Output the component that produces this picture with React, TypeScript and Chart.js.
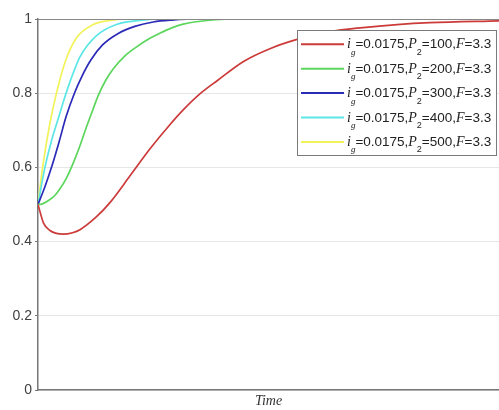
import React, { useEffect, useRef } from "react";
import { Chart, registerables } from "chart.js";

Chart.register(...registerables);

// ---- data ----
const P2Values = [100, 200, 300, 400, 500];
const seriesColors = ["#cc3a3a", "#5cd65c", "#2b2bb8", "#5ce6e6", "#f2f25a"];

const redTime = [0, 1.2, 2.6, 4, 5.5, 7.5, 9.1, 12.7, 15.6, 20, 24.3, 28.6, 31.5, 35.3, 39, 44.5, 50.3, 56.2, 63.3, 70.5, 77.9, 85, 100];
const redValues = [0.5, 0.45, 0.43, 0.422, 0.42, 0.424, 0.432, 0.467, 0.505, 0.578, 0.65, 0.715, 0.755, 0.8, 0.835, 0.885, 0.92, 0.945, 0.966, 0.977, 0.985, 0.99, 0.995];

const greenTime = [0, 0.8, 2.2, 3.7, 4.8, 6.2, 7.66, 9, 10.4, 11.8, 13.1, 14.7, 16.3, 18.8, 21.4, 24, 26.5, 29, 31.5, 36.7, 46, 100];
const greenValues = [0.5, 0.501, 0.51, 0.525, 0.543, 0.572, 0.612, 0.655, 0.705, 0.752, 0.795, 0.835, 0.865, 0.9, 0.925, 0.946, 0.962, 0.976, 0.986, 0.996, 1, 1];

const blueTime = [0, 1.5, 3, 4.6, 6.1, 7.9, 9.5, 11.5, 14, 17.4, 21, 25, 29, 35, 100];
const blueValues = [0.5, 0.548, 0.603, 0.67, 0.737, 0.8, 0.845, 0.89, 0.93, 0.961, 0.98, 0.992, 0.997, 1, 1];

const cyanTime = [0, 0.8, 1.5, 3, 4.6, 5.5, 6.5, 7.6, 9.1, 12.7, 17, 22, 28, 100];
const cyanValues = [0.5, 0.555, 0.6, 0.675, 0.74, 0.777, 0.815, 0.853, 0.898, 0.955, 0.985, 0.996, 1, 1];

const yellowTime = [0, 1, 2.6, 4.1, 5.9, 8.4, 12, 15.6, 20, 100];
const yellowValues = [0.5, 0.6, 0.72, 0.805, 0.885, 0.95, 0.985, 0.996, 1, 1];

const yTicks = [0, 0.2, 0.4, 0.6, 0.8, 1];
const xTitle = "Time";

const seriesTimes = [redTime, greenTime, blueTime, cyanTime, yellowTime];
const seriesValues = [redValues, greenValues, blueValues, cyanValues, yellowValues];

const SANS = "'Liberation Sans', Arial, sans-serif";
const SERIF = "'Liberation Serif', 'Times New Roman', serif";

const legendPlugin = {
  id: "matlabLegend",
  afterDatasetsDraw(chart: any) {
    const ctx = chart.ctx as CanvasRenderingContext2D;
    const x0 = 297, y0 = 30, w = 199, h = 125;
    ctx.save();
    ctx.fillStyle = "#ffffff";
    ctx.fillRect(x0, y0, w, h);
    ctx.strokeStyle = "#7a7a7a";
    ctx.lineWidth = 1;
    ctx.strokeRect(x0 + 0.5, y0 + 0.5, w, h);
    chart.data.datasets.forEach((ds: any, i: number) => {
      const y = 44.3 + i * 24.4;
      ctx.strokeStyle = ds.borderColor;
      ctx.lineWidth = 2;
      ctx.beginPath();
      ctx.moveTo(301, y);
      ctx.lineTo(344, y);
      ctx.stroke();
      const p = P2Values[i];
      const segs = [
        { t: "i", f: `italic 14px ${SERIF}`, dy: 0 },
        { t: "g", f: `italic 9px ${SERIF}`, dy: 6.5 },
        { t: "=0.0175,", f: `13.5px ${SANS}`, dy: 0 },
        { t: "P", f: `italic 14px ${SERIF}`, dy: 0 },
        { t: "2", f: `9px ${SANS}`, dy: 6.5 },
        { t: `=${p},`, f: `13.5px ${SANS}`, dy: 0 },
        { t: "F", f: `italic 14px ${SERIF}`, dy: 0 },
        { t: "=3.3", f: `13.5px ${SANS}`, dy: 0 },
      ];
      let x = 347;
      const base = y + 4;
      ctx.fillStyle = "#222";
      ctx.textBaseline = "alphabetic";
      ctx.textAlign = "left";
      for (const s of segs) {
        ctx.font = s.f;
        ctx.fillText(s.t, x, base + s.dy);
        x += ctx.measureText(s.t).width;
      }
    });
    ctx.restore();
  },
};

const framePlugin = {
  id: "topFrame",
  afterDraw(chart: any) {
    const { ctx, chartArea } = chart;
    ctx.save();
    ctx.strokeStyle = "#888";
    ctx.lineWidth = 1.2;
    ctx.beginPath();
    ctx.moveTo(chartArea.left, chartArea.top + 0.5);
    ctx.lineTo(chartArea.right, chartArea.top + 0.5);
    ctx.stroke();
    ctx.restore();
  },
};

export default function App() {
  const ref = useRef<HTMLCanvasElement>(null);
  useEffect(() => {
    if (!ref.current) return;
    const datasets = P2Values.map((p, i) => ({
      label: `i_g=0.0175,P_2=${p},F=3.3`,
      data: seriesTimes[i].map((t, k) => ({ x: t, y: seriesValues[i][k] })),
      borderColor: seriesColors[i],
      backgroundColor: seriesColors[i],
      borderWidth: 1.7,
      pointRadius: 0,
      cubicInterpolationMode: "monotone" as const,
      fill: false,
    }));
    const chart = new Chart(ref.current, {
      type: "line",
      data: { datasets },
      options: {
        animation: false,
        responsive: false,
        layout: { padding: { top: 19, right: 0, left: 0, bottom: 0 } },
        plugins: { legend: { display: false }, tooltip: { enabled: false } },
        scales: {
          x: {
            type: "linear",
            min: 0,
            max: 100,
            grid: { display: false },
            border: { display: true, color: "#777", width: 1.5 },
            ticks: { display: false },
            title: {
              display: true,
              text: xTitle,
              font: { family: SERIF, size: 14, style: "italic" },
              color: "#333",
              padding: { top: 0, bottom: 0 },
            },
            afterFit(scale: any) {
              scale.height = 20;
            },
          },
          y: {
            type: "linear",
            min: 0,
            max: 1,
            afterBuildTicks(scale: any) {
              scale.ticks = yTicks.map((v) => ({ value: v }));
            },
            ticks: {
              font: { family: SANS, size: 14 },
              color: "#404040",
              padding: 3,
              callback: (v: any) => String(Number(v)),
            },
            grid: {
              color: "#e6e6e6",
              tickColor: "#777",
              tickLength: 3,
              lineWidth: 1,
            },
            border: { display: true, color: "#777", width: 1.5 },
            afterFit(scale: any) {
              scale.width = 38;
            },
          },
        },
      },
      plugins: [framePlugin, legendPlugin],
    });
    return () => chart.destroy();
  }, []);
  return (
    <div style={{ position: "absolute", left: 0, top: 0, width: 499, height: 410, background: "#fff" }}>
      <canvas ref={ref} width={499} height={410} style={{ display: "block" }} />
    </div>
  );
}
